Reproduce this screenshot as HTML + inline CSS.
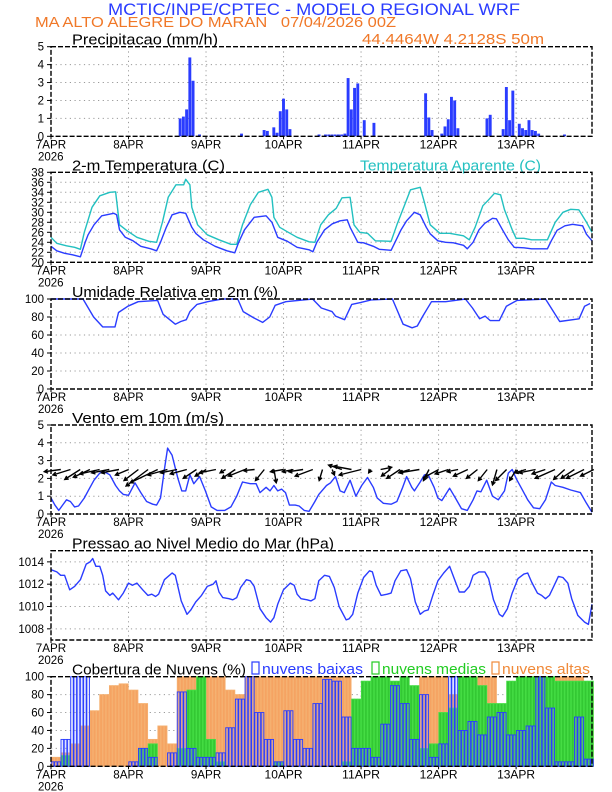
<!DOCTYPE html>
<html><head><meta charset="utf-8"><title>Meteograma WRF</title>
<style>
html,body{margin:0;padding:0;background:#fff;width:612px;height:792px;overflow:hidden}
svg{display:block;font-family:"Liberation Sans",sans-serif}
</style></head>
<body>
<svg id="chart" width="612" height="792" viewBox="0 0 612 792" xmlns="http://www.w3.org/2000/svg">
<text x="108" y="15" fill="#2a3cff" font-size="17" textLength="412" lengthAdjust="spacingAndGlyphs">MCTIC/INPE/CPTEC - MODELO REGIONAL WRF</text>
<text x="35" y="27" fill="#f07828" font-size="15" textLength="361" lengthAdjust="spacingAndGlyphs" xml:space="preserve">MA ALTO ALEGRE DO MARAN   07/04/2026 00Z</text>
<text x="362" y="44" fill="#f07828" font-size="15" textLength="182" lengthAdjust="spacingAndGlyphs">44.4464W 4.2128S 50m</text>
<g id="panels"></g>
</svg>
<script>
// ---------- DATA ----------
const dayLabels = ["7APR","8APR","9APR","10APR","11APR","12APR","13APR"];
const yearLabel = "2026";

const precipHours = [40,41,42,43,44,46,59,66,67,69,70,71,72,73,74,83,85,86,87,88,89,90,91,92,93,94,95,97,100,116,117,118,121,122,123,124,125,126,135,136,140,141,142,143,145,146,147,148,149,150,151,159];
const precipValues = [1.0,1.1,1.5,4.4,3.1,0.1,0.15,0.35,0.3,0.5,0.2,1.4,2.1,1.5,0.4,0.1,0.1,0.1,0.1,0.1,0.1,0.1,0.15,3.25,1.5,2.7,2.95,0.9,0.75,2.4,1.05,0.35,0.15,0.55,0.95,2.2,2.0,0.45,1.0,1.2,0.4,2.75,0.9,2.55,0.7,0.45,0.35,0.9,0.35,0.3,0.15,0.1];
const precipTicks = [0,1,2,3,4,5];

const tempHours = [0,1.8,4.2,6.7,9.1,10.6,11.5,13.3,15.7,19.4,20.3,21.2,23,25.4,27.8,30.9,32.7,33.9,35.7,37.5,39.9,41.7,43.6,44.8,47.2,50.8,54.5,56.9,58.1,59.9,62.9,66.6,68.4,70.2,73.2,76.2,79.9,81.1,82.3,84.7,87.1,89.5,91.7,92.6,95,96.8,99.8,101.6,105.3,106.5,108.3,110.1,112.5,114.3,116.2,117.4,119.8,122.2,124.6,127.7,128.9,130.7,132.5,134.3,136.7,137.9,139.8,141.6,143.4,146.4,148.8,153.7,154.9,156.7,159.1,161.5,164.6,165.8,167.8];
const tempValues = [23.2,22.3,21.8,21.5,21.1,24,25.5,27.5,29.3,29.8,29.5,26.5,25,24.3,23.2,22.7,22.3,24,27,29.5,30,29.8,27,25.8,24.5,23.2,22.3,21.9,24,26.5,29,29.3,28,25,24.2,23,22.5,22.1,24,26.5,27.7,28.3,28.5,27,24,23.9,23.2,22.6,22.4,24,26.4,28.3,30,29.5,27,25.7,24.3,24,23.9,23.4,22.7,24,26.5,27.8,28.8,28.7,26.5,24.5,23,22.9,22.7,22.7,24.3,26.4,27.3,27.6,27.3,25.6,24.3];
const appHours = [0,1.8,4.8,7.3,9.1,10.3,12.7,15.1,18.2,20,21.2,23.6,26.6,30.3,32.7,34.5,36.3,38.7,41.1,41.7,43,43.6,45.4,48.4,52,55.7,57.5,59.3,61.7,64.2,67.2,68.4,69,70.8,73.2,76.2,79.9,81.7,83.5,85.9,88.3,90.1,92.6,93.8,95.6,98,100.4,105.3,107.1,109.5,111.3,114.3,115.6,117.4,120.4,123.4,127.7,129.5,131.3,133.7,135.5,137.3,139.2,140.4,142.8,144,146.4,148.8,153.7,156.1,158.5,160.9,163.4,165.8,167.8];
const appValues = [25,23.8,23.3,23,22.6,26,31,33.3,34,34.1,27.5,26.3,25,24.2,24,28,33,35.5,35.5,36.6,35.5,31,27.5,25.5,24.5,23.6,23.6,27.5,31.5,34,34.6,33,29,27,26.1,25,24.1,24,27.5,29.5,30.8,32.9,33,27.5,26,25.8,24.3,24.2,27.5,31.5,34.5,35,32,27.5,25.8,25.8,25.3,24.5,27,31.3,32.5,33.8,33.5,30.5,26.5,24.8,24.8,24.5,24.5,28,30,30.6,30.5,28,26];
const tempTicks = [20,22,24,26,28,30,32,34,36,38];

const rhHours = [0,9.9,13.2,16,19.8,20.9,23.8,27,33,34.7,38.5,40.2,41.9,43,45.2,48.5,52.9,57.8,59.5,62.8,65.5,67.7,69.4,72.7,81,83.7,87,88.1,90.9,93.1,95.8,99.1,105.7,109,111.8,113.4,115.1,117.8,122.2,128.3,130.5,132.7,134.4,136,138.8,141,144.3,153.1,157.5,163.5,165.2,166.9];
const rhValues = [100,100,80,69,69,85,92,97,98.5,83,72,75,77,86,94,97,100,100,86,79,74,80,93,97,100,90,86,81,77,94,96,99,100,72,68,70,81,97,97,100,90,78,81,76,76,92,98.5,100,75,78,92,95];
const rhTicks = [0,20,40,60,80,100];

const windHours = [0,1.2,2.4,3.6,4.8,6,7.3,8.5,10.3,11.5,13.3,15.1,16.3,18.2,20,21.2,22.4,24,26,27.8,29.6,31.5,32.7,33.9,35.1,36.1,37.5,39.3,40.5,41.7,43,44.2,46,47.8,49.6,51.4,53.8,55.7,57.5,59.3,61.7,63.5,64.7,66.6,67.8,69,70.2,71.4,72.6,73.8,75.6,76.8,78.4,79.9,81.7,82.9,85.3,86.5,88.1,89.5,90.8,92.6,94.4,96.2,98,99.8,101,102.9,105.3,107.1,108.9,110.1,111.7,112.5,114.3,115.6,116.8,118.6,119.8,121,123.4,125.2,127.1,128.9,130.7,131.9,133.1,134.9,136.7,138.5,140.4,141.6,142.8,144,145.8,147.6,149.4,151.3,153.1,154.9,156.1,158.5,160.9,163.9,165.8,167.8];
const windSpeed = [0.9,0.5,0.2,0.5,0.8,0.7,0.4,0.45,0.9,1.3,1.9,2.3,2.4,2.2,1.6,1.3,1.1,1.05,1.75,1.2,0.7,0.55,0.5,0.9,2.5,3.7,3.3,2,1.3,1.3,2.2,1.7,2.1,1.3,0.4,0.2,0.2,0.4,1,1.8,1.7,1.7,1.2,1.5,1.3,1.6,1.3,1.4,1.2,0.5,0.5,0.45,0.2,0.15,0.7,1.1,1.6,1.75,2.1,1.3,1.2,1.9,1,1.6,2.05,1.5,0.9,0.6,0.55,0.7,1.5,2.1,1.5,1.3,1.8,2.2,2.2,1.5,0.9,0.75,1.45,0.9,0.3,0.2,0.8,1.3,1.25,1.9,1,0.8,1.3,2.3,2.5,2,1.4,0.8,0.35,0.3,0.8,1.8,1.6,1.5,1.35,1.2,0.6,0.1];
const windTicks = [0,1,2,3,4,5];
// wind vectors every 3 hours (u = eastward, v = northward)
const vecU = [-1.5,-1.6,-1.4,-1.5,-1.8,-1.6,-1.6,-1.2,-1.3,-2,-2.5,-1.8,-1.5,-1.5,-1.2,-1.0,-1.5,-0.5,-1.2,-1.5,-1.0,-0.8,0.2,-1.2,-1.0,-1.3,-1.6,-0.3,0.2,-1.2,-1.6,-2,-0.2,1.0,-0.8,-1.2,-1.0,-1.8,-0.5,-1.3,-1.2,-1.0,-1.3,-1.0,-0.8,-0.4,-1.0,-0.6,-1.0,-1.5,-1.2,-1.8,-1.0,-1.2,-1.6,-1.2];
const vecV = [-0.2,-0.5,-0.9,-0.7,-0.4,-0.3,-0.3,-0.5,-1.0,-1.5,-1.2,-0.5,-0.3,-0.4,-0.8,-0.6,-0.3,-0.3,-0.8,-0.6,-0.1,-1.0,-1.2,-0.2,-0.2,-0.2,-0.6,-1.0,-0.5,0.4,0.3,-0.5,-0.3,0.2,-0.6,-0.8,-0.3,-0.3,-1.0,-0.7,-0.4,-0.2,-0.6,-0.8,-1.0,-1.4,-1.0,-1.0,-0.3,-0.3,-0.4,-0.8,-0.9,-0.8,-0.8,-0.6];

const presHours = [0,1.8,3,4.2,5.8,7.3,9.1,10.9,12.1,12.9,13.9,15.1,16,16.9,18.2,19.1,20.9,22.4,24,25.2,26.6,28.4,30,31.2,32.4,33.3,35.1,37.5,38.5,40.3,42.1,43.3,44.8,46.6,48.4,50.2,51.1,52,53.2,55.1,56.3,57.5,58.7,60.5,61.7,62.9,64.7,66.6,68,69,70.2,72,74.1,75.3,76.2,77.4,79.3,80.5,81.7,82.9,84.7,86.2,87.7,89.2,91.4,92.3,93.4,95,96.8,98.6,99.5,100.7,102.2,104.1,105.3,106.5,108.3,110.1,111.3,112.8,114.3,115.6,116.8,118.2,119.8,121.6,123.4,124.6,126.4,128,129.5,130.7,132.5,134.3,135.5,137,138.8,139.8,141.3,142.8,144.6,146.4,147.6,148.8,150.6,151.9,153.1,154.3,155.5,157.1,158.5,160,161.2,163.1,165.2,166.4,167.8];
const presValues = [1013.3,1013.1,1012.8,1012.8,1011.5,1011.8,1012.4,1013.8,1014,1014.3,1013.6,1013.6,1012.8,1011.4,1011,1011.2,1010.6,1011.2,1012.1,1011.9,1012.1,1011.5,1011,1011.1,1010.9,1011.1,1012.4,1013,1012.8,1010.5,1009.3,1009.7,1010.4,1011,1011.8,1012,1012.3,1011.3,1010.8,1010.7,1010.6,1010.8,1011.7,1012.4,1012.3,1011.8,1009.8,1009,1008.6,1009,1010.2,1011.5,1012.1,1011.9,1011.1,1010.7,1010.6,1010.5,1010.7,1012.3,1012.8,1012.7,1011.7,1010,1008.8,1008.9,1009.3,1011.2,1012.6,1013.2,1013.1,1011.9,1011,1011.1,1011.2,1012.3,1013.2,1013.3,1012.5,1010.4,1009.3,1009.6,1009.7,1011,1012.3,1013,1013.6,1012.7,1011.3,1011.3,1011.8,1012.8,1013.1,1013.1,1012.5,1010.6,1009.3,1009.1,1009.8,1011.2,1012.5,1012.9,1013,1012.2,1011.2,1011,1010.7,1011,1011.7,1012.7,1012.6,1012.1,1010.7,1009.2,1008.6,1008.4,1010.2];
const presTicks = [1008,1010,1012,1014];

// clouds every 3 hours
const cloudLow = [5,30,100,100,0,0,0,0,5,20,10,0,15,83,20,10,10,15,43,75,100,60,30,5,62,30,20,70,97,95,55,20,20,10,47,90,70,30,80,10,25,100,40,50,35,55,60,35,40,45,100,65,5,5,55,8];
const cloudMid = [0,12,0,0,0,0,0,0,0,20,25,0,0,20,85,100,30,5,0,0,0,0,0,5,0,0,0,0,0,0,5,75,95,100,100,95,100,90,20,25,60,65,100,100,90,70,70,95,100,100,100,100,95,95,95,95];
const cloudHigh = [10,15,25,45,62,80,90,92,85,70,30,45,25,100,100,100,100,100,85,80,100,100,100,100,100,100,100,100,100,100,100,60,40,30,20,40,50,85,100,100,100,80,100,100,100,100,60,60,100,100,100,60,100,100,100,90];
const cloudTicks = [0,20,40,60,80,100];

// ---------- DRAWING ----------
const NS = "http://www.w3.org/2000/svg";
const root = document.getElementById("panels");
const X0 = 51, X1 = 592, HMAX = 167.5;
const xs = h => X0 + (h / HMAX) * (X1 - X0);
const BLUE = "#2a3cff";

function mk(tag, attrs, parent) {
  const e = document.createElementNS(NS, tag);
  for (const k in attrs) e.setAttribute(k, attrs[k]);
  (parent || root).appendChild(e);
  return e;
}

function panel(name, top, bot, ymin, ymax, ticks, title, titleW) {
  const g = mk("g", {});
  
  
  const ys = v => bot - (v - ymin) / (ymax - ymin) * (bot - top);
  ticks.forEach(t => {
    if (t === ymin || t === ymax) return;
    const l = mk("line", {x1: X0, x2: X1, y1: ys(t), y2: ys(t), stroke: "#9a9a9a", "stroke-width": 1, "stroke-dasharray": "1.2,3.5"}, g);
    
    
  });
  for (let d = 1; d < 7; d++) {
    const l = mk("line", {x1: xs(d * 24), x2: xs(d * 24), y1: top, y2: bot, stroke: "#9a9a9a", "stroke-width": 1, "stroke-dasharray": "1.2,3.5"}, g);
    
    
  }
  ticks.forEach(t => {
    const tx = mk("text", {x: 44, y: ys(t) + 4, "text-anchor": "end", "font-size": 11.5, fill: "#000"}, g);
    tx.textContent = t;
    
    
    mk("line", {x1: X0 - 4, x2: X0, y1: ys(t), y2: ys(t), stroke: "#000"}, g);
  });
  dayLabels.forEach((lab, i) => {
    const x = xs(i * 24);
    mk("line", {x1: x, x2: x, y1: bot, y2: bot + 3, stroke: "#000"}, g);
    const tx = mk("text", {x: x, y: bot + 12, "text-anchor": "middle", "font-size": 11.5, fill: "#000", textLength: lab.length * 7.6, lengthAdjust: "spacingAndGlyphs"}, g);
    tx.textContent = lab;
    
    
  });
  const yr = mk("text", {x: X0 - 13, y: bot + 24, "font-size": 11.5, fill: "#000"}, g);
  yr.textContent = yearLabel;
  
  
  const tt = mk("text", {x: 72, y: top - 2, "font-size": 15, fill: "#000", textLength: titleW, lengthAdjust: "spacingAndGlyphs"}, g);
  tt.textContent = title;
  
  
  return {g, ys, top, bot};
}

function frame(p) {
  const r = mk("rect", {x: X0, y: p.top, width: X1 - X0, height: p.bot - p.top, fill: "none", stroke: "#000", "stroke-width": 1.4, "stroke-dasharray": "5,2"}, p.g);
  
  
}

function line(p, hours, vals, color, name) {
  const d = hours.map((h, i) => (i ? "L" : "M") + xs(Math.min(h, HMAX)).toFixed(1) + "," + p.ys(vals[i]).toFixed(1)).join("");
  const e = mk("path", {d: d, fill: "none", stroke: color, "stroke-width": 1.4, "stroke-linejoin": "round"}, p.g);
  
  
}

// Panel 1: precipitation
const p1 = panel("precipitation", 46.7, 136.3, 0, 5, precipTicks, "Precipitacao (mm/h)", 146);
precipHours.forEach((h, i) => {
  const y = p1.ys(precipValues[i]);
  const b = mk("rect", {x: xs(h) - 1.5, y: y, width: 2.9, height: p1.bot - y, fill: BLUE}, p1.g);
  
  
});
frame(p1);

// Panel 2: temperature
const p2 = panel("temperature", 172.3, 262.3, 20, 38, tempTicks, "2-m Temperatura (C)", 153);
line(p2, appHours, appValues, "#22c0c0", "apparent-temperature-line");
line(p2, tempHours, tempValues, BLUE, "temperature-line");
const at = mk("text", {x: 360, y: 170.3, "font-size": 15, fill: "#22c0c0", textLength: 181, lengthAdjust: "spacingAndGlyphs"}, p2.g);
at.textContent = "Temperatura Aparente (C)";


frame(p2);

// Panel 3: humidity
const p3 = panel("humidity", 299, 389, 0, 100, rhTicks, "Umidade Relativa em 2m (%)", 206);
line(p3, rhHours, rhValues, BLUE, "humidity-line");
frame(p3);

// Panel 4: wind
const p4 = panel("wind", 425, 514, 0, 5, windTicks, "Vento em 10m (m/s)", 152);
line(p4, windHours, windSpeed, BLUE, "wind-speed-line");
const baseY = p4.ys(2.5), SC = 11;
vecU.forEach((u, i) => {
  const x = xs(i * 3 + 1.5) + 5;
  const v = vecV[i];
  const x2 = x + u * SC, y2 = baseY - v * SC;
  const ang = Math.atan2(y2 - baseY, x2 - x);
  const ah = 4;
  const d = `M${x.toFixed(1)},${baseY.toFixed(1)}L${x2.toFixed(1)},${y2.toFixed(1)}M${(x2 - ah * Math.cos(ang - 0.5)).toFixed(1)},${(y2 - ah * Math.sin(ang - 0.5)).toFixed(1)}L${x2.toFixed(1)},${y2.toFixed(1)}L${(x2 - ah * Math.cos(ang + 0.5)).toFixed(1)},${(y2 - ah * Math.sin(ang + 0.5)).toFixed(1)}`;
  const a = mk("path", {d: d, stroke: "#000", "stroke-width": 1.4, fill: "none"}, p4.g);
  
  
});
frame(p4);

// Panel 5: pressure
const p5 = panel("pressure", 550.7, 640, 1007, 1015, presTicks, "Pressao ao Nivel Medio do Mar (hPa)", 262);
line(p5, presHours, presValues, BLUE, "pressure-line");
frame(p5);

// Panel 6: clouds
const p6 = panel("clouds", 676.7, 766.3, 0, 100, cloudTicks, "Cobertura de Nuvens (%)", 174);
const hw = xs(1) - xs(0);
function cloudBars(vals, fill, stroke, name) {
  vals.forEach((v, i) => {
    if (v <= 0) return;
    const y = p6.ys(v);
    for (let k = 0; k < 3; k++) {
      const r = mk("rect", {x: xs(i * 3 + k) + 0.3, y: y, width: hw - 0.6, height: p6.bot - y, fill: fill, stroke: stroke, "stroke-width": 0.9}, p6.g);
      
      
    }
  });
}
cloudBars(cloudHigh, "#f5a362", "#f5b070", "high-cloud-bar");
cloudBars(cloudMid, "#33c833", "#44dd44", "mid-cloud-bar");
cloudBars(cloudLow, "rgba(150,165,255,0.3)", "#2a3cff", "low-cloud-bar");
const legend = [["nuvens baixas", "#2a3cff", 252, 101], ["nuvens medias", "#22cc22", 372, 104], ["nuvens altas", "#f08a3a", 492, 88]];
legend.forEach(([lab, col, x, w]) => {
  const b = mk("rect", {x: x, y: 662, width: 7, height: 12, fill: "none", stroke: col, "stroke-width": 1.2}, p6.g);
  
  
  const t = mk("text", {x: x + 10, y: 674, "font-size": 15, fill: col, textLength: w, lengthAdjust: "spacingAndGlyphs"}, p6.g);
  t.textContent = lab;
  
  
});
frame(p6);
</script>
</body></html>
